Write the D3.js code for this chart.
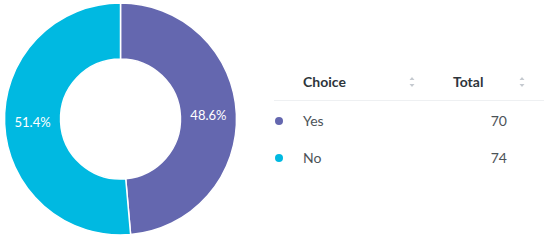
<!DOCTYPE html>
<html>
<head>
<meta charset="utf-8">
<script src="https://d3js.org/d3.v7.min.js"></script>
<style>
  body { margin: 0; background: #fff; }
  svg { font-family: Lato, "Open Sans", sans-serif; }
</style>
</head>
<body>
<svg id="chart" width="550" height="242"></svg>
<script>
	const choices = ["Yes", "No"];
	const totals = [70, 74];
	const colors = ["#6467AF", "#00B9E1"];
	const headers = ["Choice", "Total"];

	const svg = d3.select("#chart");
	const sum = d3.sum(totals);

	// donut
	const cx = 120.5, cy = 119, outerR = 116, innerR = 60;
	const pie = d3.pie().sort(null).value(d => d)(totals);
	const arc = d3.arc().innerRadius(innerR).outerRadius(outerR);
	const labelArc = d3.arc().innerRadius(88).outerRadius(88);

	const g = svg.append("g").attr("transform", `translate(${cx},${cy})`);

	g.selectAll("path")
		.data(pie)
		.enter().append("path")
		.attr("d", arc)
		.attr("fill", (d, i) => colors[i])
		.attr("stroke", "#fff")
		.attr("stroke-width", 1.5);

	g.selectAll("text")
		.data(pie)
		.enter().append("text")
		.attr("transform", d => `translate(${labelArc.centroid(d)})`)
		.attr("text-anchor", "middle")
		.attr("dy", "0.35em")
		.attr("fill", "#fff")
		.attr("font-size", 13)
		.text(d => (d.value / sum * 100).toFixed(1) + "%");

	// table
	const colX = [303, 507];
	const rowY = d3.scalePoint().domain(choices).range([121, 158]);

	svg.append("text")
		.attr("x", colX[0]).attr("y", 82).attr("dy", "0.35em")
		.attr("font-size", 14).attr("font-weight", "bold").attr("fill", "#2E353B")
		.text(headers[0]);
	svg.append("text")
		.attr("x", 453).attr("y", 82).attr("dy", "0.35em")
		.attr("font-size", 14).attr("font-weight", "bold").attr("fill", "#2E353B")
		.text(headers[1]);

	// sort icons
	[412, 522].forEach(x => {
		svg.append("path")
			.attr("d", `M${x - 2.5},${80} L${x},${77} L${x + 2.5},${80} Z M${x - 2.5},${84} L${x},${87} L${x + 2.5},${84} Z`)
			.attr("fill", "#C5CAD0");
	});

	svg.append("line")
		.attr("x1", 274).attr("x2", 544)
		.attr("y1", 100.5).attr("y2", 100.5)
		.attr("stroke", "#EEF0F2").attr("stroke-width", 1);

	const rows = svg.selectAll("g.row")
		.data(choices)
		.enter().append("g").attr("class", "row")
		.attr("transform", d => `translate(0,${rowY(d)})`);

	rows.append("circle")
		.attr("cx", 279).attr("cy", 0).attr("r", 4)
		.attr("fill", (d, i) => colors[i]);

	rows.append("text")
		.attr("x", colX[0]).attr("dy", "0.35em")
		.attr("font-size", 14).attr("fill", "#4C5358")
		.text(d => d);

	rows.append("text")
		.attr("x", colX[1]).attr("dy", "0.35em")
		.attr("text-anchor", "end")
		.attr("font-size", 14).attr("fill", "#4C5358")
		.text((d, i) => totals[i]);
</script>
</body>
</html>
